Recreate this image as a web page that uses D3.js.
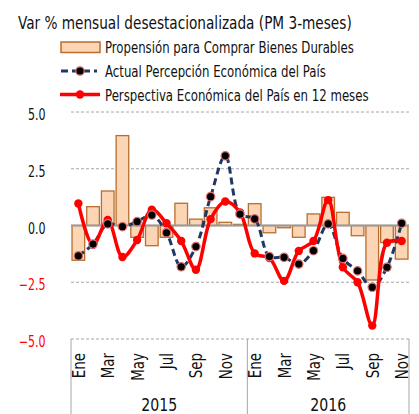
<!DOCTYPE html>
<html><head><meta charset="utf-8">
<script src="https://cdn.jsdelivr.net/npm/d3@7"></script>
<style>
body{margin:0;background:#fff}
svg{display:block}
text{font-family:'DejaVu Sans Condensed','Liberation Sans Narrow','DejaVu Sans',sans-serif}
</style>
</head><body>
<svg id="c" width="419" height="414"></svg>
<script>
const months2015 = ["Ene","Feb","Mar","Abr","May","Jun","Jul","Ago","Sep","Oct","Nov","Dic"];
const months2016 = ["Ene","Feb","Mar","Abr","May","Jun","Jul","Ago","Sep","Oct","Nov"];
const years = ["2015","2016"];
const shownMonths = ["Ene","Mar","May","Jul","Sep","Nov"];
const yTicks = [5.0, 2.5, 0.0, -2.5, -5.0];
const propension = [-1.53, 0.83, 1.52, 3.96, -0.52, -0.89, -0.52, 0.98, 0.28, 0.78, 0.14, 0.05,
                    0.96, -0.32, -0.10, -0.52, 0.51, 1.24, 0.58, -0.45, -2.40, -0.75, -1.48];
const actual = [-1.34, -0.82, 0.07, -0.05, 0.17, 0.46, -0.32, -1.82, -0.93, 1.27, 3.07, 0.50,
                0.29, -1.37, -1.40, -1.70, -1.11, 0.07, -1.45, -2.00, -2.72, -1.84, 0.10];
const perspectiva = [0.97, -0.85, 0.24, -1.39, -0.64, 0.70, 0.10, -0.68, -1.95, 0.28, 1.06, 0.58,
                     -1.23, -1.43, -2.44, -1.12, -0.68, 1.12, -1.84, -2.50, -4.41, -0.76, -0.68];
const seriesNames = ["Propensión para Comprar Bienes Durables",
                     "Actual Percepción Económica del País",
                     "Perspectiva Económica del País en 12 meses"];
const titleText = "Var % mensual desestacionalizada (PM 3-meses)";

const cats = months2015.map(m => "2015-" + m).concat(months2016.map(m => "2016-" + m));
const svg = d3.select("#c");

// place a text horizontally squeezed (condensed look) at (px,py) with rotation rot
function squeezed(parent, str, px, py, size, sx, opts = {}) {
  const g = parent.append("g").attr("transform", `translate(${px},${py}) rotate(${opts.rot || 0}) scale(${sx},1)`);
  const t = g.append("text").attr("x", 0).attr("y", 0).attr("font-size", size)
    .attr("text-anchor", opts.anchor || "start").attr("fill", opts.fill || "#111").text(str);
  return t;
}
function fitted(parent, str, px, py, size, width, opts = {}) {
  const t = squeezed(parent, str, px, py, size, 1, opts);
  const L = t.node().getComputedTextLength();
  d3.select(t.node().parentNode).attr("transform", `translate(${px},${py}) rotate(${opts.rot || 0}) scale(${width / L},1)`);
  return t;
}

const x = d3.scaleBand().domain(cats).range([71, 409]).paddingInner(0.14).paddingOuter(0.07);
const y = d3.scaleLinear().domain([-5, 5]).range([339, 112]);
const cx = c => x(c) + x.bandwidth() / 2;

// title
fitted(svg, titleText, 18, 29, 18.5, 334);

// legend
const lg = svg.append("g");
lg.append("rect").attr("x", 61).attr("y", 42).attr("width", 39).attr("height", 10.5)
  .attr("fill", "#FCD5B4").attr("stroke", "#B86E2E").attr("stroke-width", 1.5);
lg.append("line").attr("x1", 61).attr("x2", 97).attr("y1", 71).attr("y2", 71)
  .attr("stroke", "#1F3864").attr("stroke-width", 3).attr("stroke-dasharray", "7,4");
lg.append("circle").attr("cx", 80).attr("cy", 71).attr("r", 4.2).attr("fill", "#000").attr("stroke", "#E07070").attr("stroke-width", 1.2);
lg.append("line").attr("x1", 60).attr("x2", 100).attr("y1", 94.5).attr("y2", 94.5)
  .attr("stroke", "#FF0000").attr("stroke-width", 3.5);
lg.append("circle").attr("cx", 80).attr("cy", 94.5).attr("r", 4.2).attr("fill", "#FF0000");
const legY = [53, 76.5, 100.5], legW = [249, 221, 264];
seriesNames.forEach((s, i) => fitted(lg, s, 105, legY[i], 16.5, legW[i]));

// gridlines
yTicks.filter(t => t !== 0).forEach(t => {
  svg.append("line").attr("x1", 71).attr("x2", 409).attr("y1", y(t)).attr("y2", y(t))
    .attr("stroke", "#a6a6a6").attr("stroke-width", 1).attr("stroke-dasharray", "3,2");
});
// y tick labels
yTicks.forEach(t => {
  squeezed(svg, d3.format(".1f")(t), 45.5, y(t) + 8, 15, 0.82,
    { anchor: "end", fill: t < 0 ? "#FF0000" : "#111" });
});

// bars
svg.append("g").selectAll("rect").data(cats).join("rect")
  .attr("x", c => x(c)).attr("width", x.bandwidth())
  .attr("y", (c, i) => y(Math.max(0, propension[i])))
  .attr("height", (c, i) => Math.abs(y(propension[i]) - y(0)))
  .attr("fill", "#FCD5B4").attr("stroke", "#B86E2E").attr("stroke-width", 1.3);

// zero line
svg.append("line").attr("x1", 71).attr("x2", 409).attr("y1", y(0)).attr("y2", y(0))
  .attr("stroke", "#9a9a9a").attr("stroke-width", 2);

// separators & x axis labels
const boundaries = [71, (x("2015-Dic") + x.bandwidth() + x("2016-Ene")) / 2, 409];
boundaries.forEach(b => {
  svg.append("line").attr("x1", b).attr("x2", b).attr("y1", 339).attr("y2", 414)
    .attr("stroke", "#a6a6a6").attr("stroke-width", 1);
});
cats.forEach(c => {
  const m = c.split("-")[1];
  if (shownMonths.includes(m)) {
    squeezed(svg, m, cx(c) + 6.5, 353, 17, 0.88, { anchor: "end", rot: -90 });
  }
});
years.forEach((yr, i) => {
  squeezed(svg, yr, (boundaries[i] + boundaries[i + 1]) / 2, 411, 18.5, 0.85, { anchor: "middle" });
});

// lines
const line = vals => d3.line().x((d, i) => cx(cats[i])).y(d => y(d)).curve(d3.curveCatmullRom.alpha(0.5))(vals);
svg.append("path").attr("d", line(actual)).attr("fill", "none")
  .attr("stroke", "#1F3864").attr("stroke-width", 3).attr("stroke-dasharray", "7,4");
svg.append("path").attr("d", line(perspectiva)).attr("fill", "none")
  .attr("stroke", "#FF0000").attr("stroke-width", 3.5);
svg.append("g").selectAll("circle").data(perspectiva).join("circle")
  .attr("cx", (d, i) => cx(cats[i])).attr("cy", d => y(d)).attr("r", 4.2).attr("fill", "#FF0000");
svg.append("g").selectAll("circle").data(actual).join("circle")
  .attr("cx", (d, i) => cx(cats[i])).attr("cy", d => y(d)).attr("r", 4.2)
  .attr("fill", "#000").attr("stroke", "#E07070").attr("stroke-width", 1.2);
</script>
</body></html>
